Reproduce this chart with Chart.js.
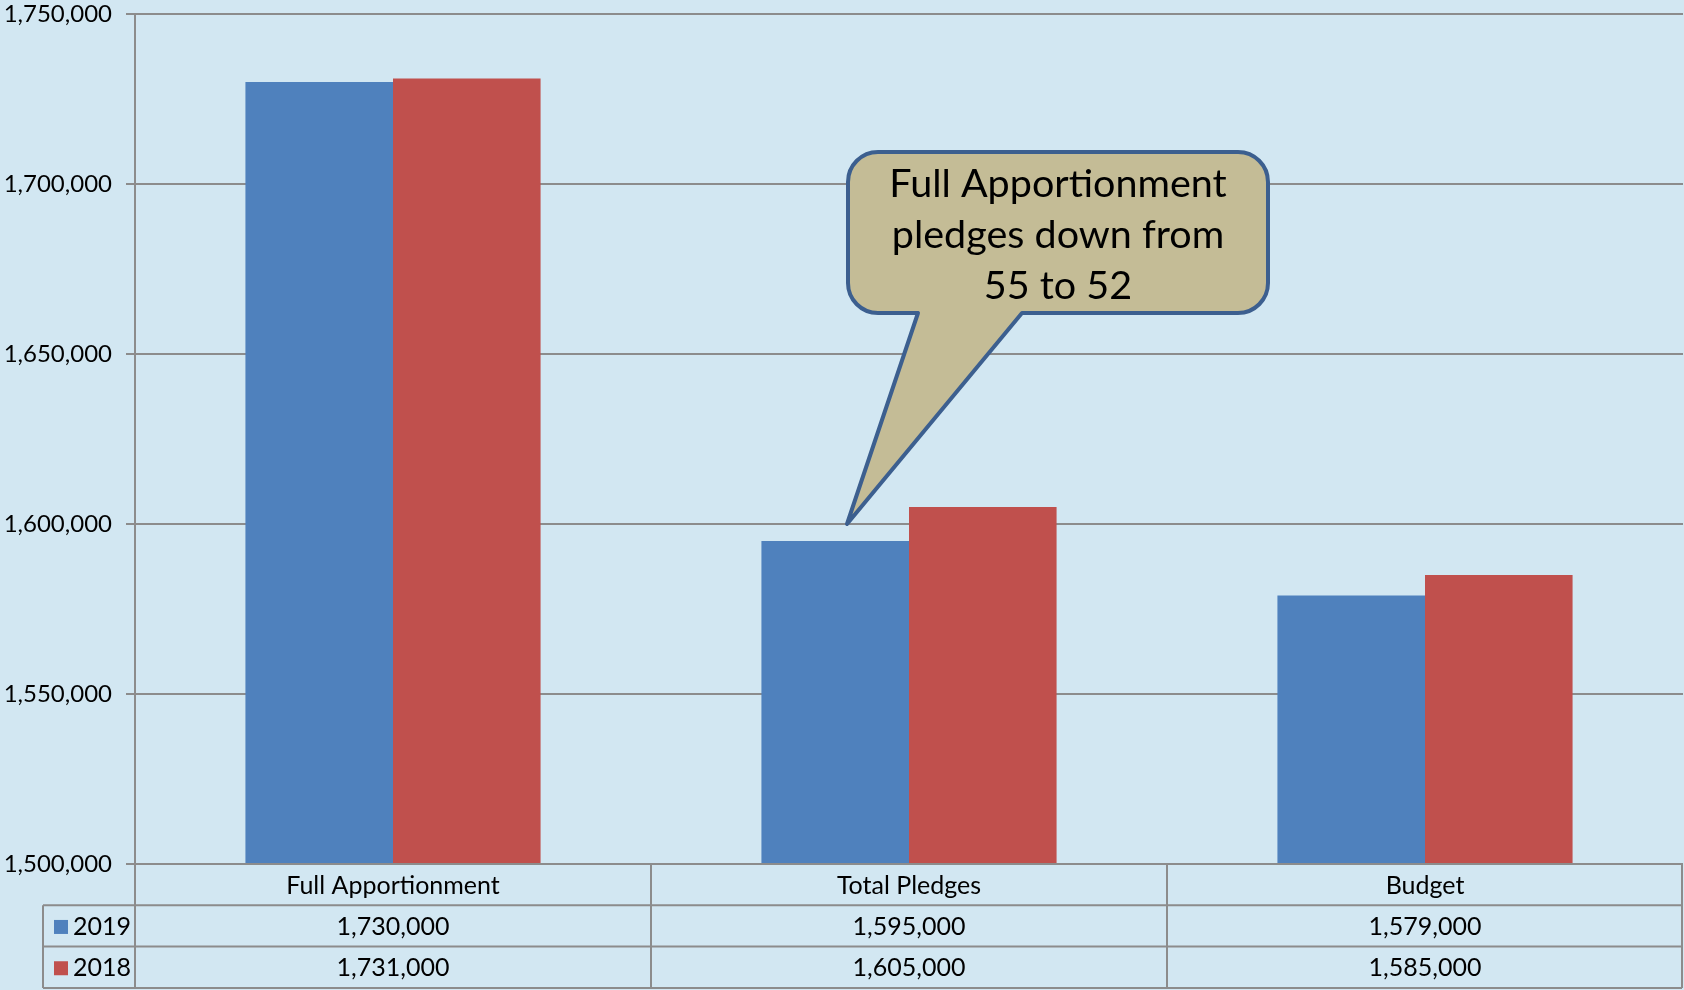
<!DOCTYPE html>
<html>
<head>
<meta charset="utf-8">
<script src="https://cdn.jsdelivr.net/npm/chart.js@4/dist/chart.umd.min.js"></script>
<style>
  html, body { margin: 0; padding: 0; background: #d2e7f2; }
  #wrap { width: 1684px; height: 990px; }
</style>
</head>
<body>
<div id="wrap"><canvas id="c" width="1684" height="990"></canvas></div>
<script>
const categories = ['Full Apportionment', 'Total Pledges', 'Budget'];
const seriesNames = ['2019', '2018'];
const values2019 = [1730000, 1595000, 1579000];
const values2018 = [1731000, 1605000, 1585000];
const yTicks = [1500000, 1550000, 1600000, 1650000, 1700000, 1750000];
const calloutLines = ['Full Apportionment', 'pledges down from', '55 to 52'];
const calloutValue = 1600000;

const BG = '#d2e7f2';
const GRID = '#8c8c8c';
const COLORS = ['#4f81bd', '#c0504d'];
const FONT = 'Lato, "Open Sans", sans-serif';
const fmt = v => Number(v).toLocaleString('en-US');

const bgPlugin = {
  id: 'bg',
  beforeDraw(chart) {
    const ctx = chart.ctx;
    ctx.save();
    ctx.fillStyle = BG;
    ctx.fillRect(0, 0, chart.width, chart.height);
    ctx.restore();
  }
};

const tablePlugin = {
  id: 'dataTable',
  afterDraw(chart) {
    const ctx = chart.ctx;
    const xs = chart.scales.x;
    const area = chart.chartArea;
    const n = categories.length;
    const catW = (area.right - area.left) / n;
    const rowH = 41.3;
    const top = area.bottom;
    const legLeft = area.left - 92;
    const right = area.right - 1;
    ctx.save();
    ctx.strokeStyle = GRID;
    ctx.lineWidth = 2;
    ctx.beginPath();
    ctx.moveTo(area.left, top); ctx.lineTo(right, top);
    for (let r = 1; r <= 3; r++) {
      const y = top + rowH * r;
      ctx.moveTo(legLeft, y); ctx.lineTo(right, y);
    }
    ctx.moveTo(legLeft, top + rowH); ctx.lineTo(legLeft, top + rowH * 3);
    for (let i = 0; i <= n; i++) {
      const x = i === n ? right : area.left + catW * i;
      ctx.moveTo(x, top); ctx.lineTo(x, top + rowH * 3);
    }
    ctx.stroke();

    ctx.fillStyle = '#000';
    ctx.font = '25px ' + FONT;
    ctx.textAlign = 'center';
    ctx.textBaseline = 'middle';
    const rows = [values2019, values2018];
    for (let i = 0; i < n; i++) {
      const cx = xs.getPixelForValue(i);
      ctx.fillText(categories[i], cx, top + rowH * 0.5 + 1);
      rows.forEach((vals, r) => {
        ctx.fillText(fmt(vals[i]), cx, top + rowH * (r + 1.5) + 1);
      });
    }
    ctx.textAlign = 'left';
    seriesNames.forEach((name, r) => {
      const cy = top + rowH * (r + 1.5);
      ctx.fillStyle = COLORS[r];
      ctx.fillRect(legLeft + 11, cy - 6, 14, 14);
      ctx.fillStyle = '#000';
      ctx.fillText(name, legLeft + 30, cy + 1);
    });
    ctx.restore();
  }
};

const calloutPlugin = {
  id: 'callout',
  afterDatasetsDraw(chart) {
    const ctx = chart.ctx;
    const xs = chart.scales.x, ys = chart.scales.y;
    const tipX = xs.getPixelForValue(1) - 62;
    const tipY = ys.getPixelForValue(calloutValue);
    const L = tipX + 1, R = tipX + 421, T = tipY - 372, B = tipY - 211;
    const bl = tipX + 71, br = tipX + 175;
    const rad = 30;
    ctx.save();
    ctx.beginPath();
    ctx.moveTo(L + rad, T);
    ctx.lineTo(R - rad, T);
    ctx.arcTo(R, T, R, T + rad, rad);
    ctx.lineTo(R, B - rad);
    ctx.arcTo(R, B, R - rad, B, rad);
    ctx.lineTo(br, B);
    ctx.lineTo(tipX, tipY);
    ctx.lineTo(bl, B);
    ctx.lineTo(L + rad, B);
    ctx.arcTo(L, B, L, B - rad, rad);
    ctx.lineTo(L, T + rad);
    ctx.arcTo(L, T, L + rad, T, rad);
    ctx.closePath();
    ctx.fillStyle = '#c4bc96';
    ctx.fill();
    ctx.lineWidth = 4;
    ctx.strokeStyle = '#3c5f8f';
    ctx.lineJoin = 'round';
    ctx.stroke();
    ctx.fillStyle = '#000';
    ctx.font = '39.5px ' + FONT;
    ctx.textAlign = 'center';
    ctx.textBaseline = 'alphabetic';
    const cx = (L + R) / 2;
    calloutLines.forEach((ln, i) => {
      ctx.fillText(ln, cx, T + 45 + i * 51);
    });
    ctx.restore();
  }
};

new Chart(document.getElementById('c'), {
  type: 'bar',
  data: {
    labels: categories,
    datasets: [
      { label: seriesNames[0], data: values2019, backgroundColor: COLORS[0], borderWidth: 0 },
      { label: seriesNames[1], data: values2018, backgroundColor: COLORS[1], borderWidth: 0 }
    ]
  },
  options: {
    responsive: false,
    animation: false,
    events: [],
    layout: { padding: { top: 14, right: 1, left: 0, bottom: 0 } },
    plugins: { legend: { display: false }, tooltip: { enabled: false } },
    datasets: { bar: { categoryPercentage: 0.572, barPercentage: 1.0 } },
    scales: {
      x: {
        grid: { display: false },
        border: { display: false },
        ticks: { display: false },
        afterFit(scale) {
          scale.height = 126;
          scale.paddingLeft = 0; scale.paddingRight = 0;
        }
      },
      y: {
        min: yTicks[0],
        max: yTicks[yTicks.length - 1],
        afterBuildTicks(scale) { scale.ticks = yTicks.map(v => ({ value: v })); },
        grid: { color: GRID, lineWidth: 2, tickLength: 9, drawTicks: true },
        border: { display: true, color: GRID, width: 2 },
        ticks: {
          color: '#000',
          padding: 14,
          font: { family: FONT, size: 24 },
          callback: v => fmt(v)
        },
        afterFit(scale) {
          scale.width = 135;
          scale.paddingTop = 0; scale.paddingBottom = 0;
        }
      }
    }
  },
  plugins: [bgPlugin, tablePlugin, calloutPlugin]
});
</script>
</body>
</html>
